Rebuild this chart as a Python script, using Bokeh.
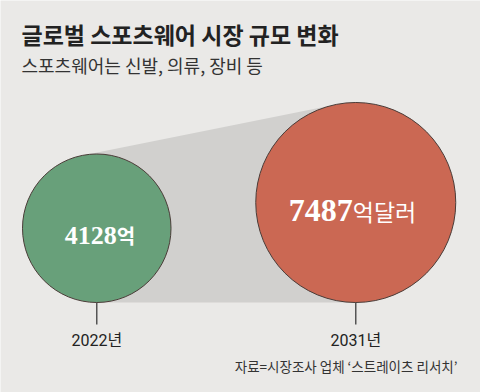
import numpy as np
from bokeh.plotting import figure
from bokeh.models import Range1d, ColumnDataSource
from bokeh.core.properties import value
from bokeh.embed import file_html
from bokeh.resources import INLINE

# ---- data ----
years = ["2022년", "2031년"]
market_values = [4128, 7487]          # 억 달러
value_labels = ["4128", "7487"]
unit_labels = ["억", "억달러"]
title_text = "글로벌 스포츠웨어 시장 규모 변화"
subtitle_text = "스포츠웨어는 신발, 의류, 장비 등"
source_text = "자료=시장조사 업체 \u2018스트레이츠 리서치\u2019"

# ---- styles / layout ----
W, H = 480, 392
BG = "#eae9e7"
SHADOW = "#d1d0ce"
CIRCLE_COLORS = ["#68a07a", "#cb6853"]
OUTLINE = "#4a3c38"
TEXT_DARK = "#222222"
BASE_Y = 302            # bottom line of bubbles (px)
FIRST_LEFT = 22         # left edge of first bubble
CENTER_GAP = 259        # distance between bubble centres
SCALE = 100 / np.sqrt(7487)   # px radius per sqrt(value)

p = figure(width=W, height=H, x_range=Range1d(0, W), y_range=Range1d(H, 0),
           output_backend="svg", toolbar_location=None, min_border=0,
           x_axis_location=None, y_axis_location=None)
p.grid.visible = False
p.outline_line_color = None
p.background_fill_color = BG
p.border_fill_color = BG

r = SCALE * np.sqrt(np.array(market_values, dtype=float))
cx = np.array([FIRST_LEFT + r[0], FIRST_LEFT + r[0] + CENTER_GAP])
cy = BASE_Y - r

# upper external tangent for the shadow
c1 = np.array([cx[0], cy[0]]); c2 = np.array([cx[1], cy[1]])
D = np.linalg.norm(c2 - c1)
u = (c2 - c1) / D
v = np.array([-u[1], u[0]])
if v[1] > 0:
    v = -v
a = (r[0] - r[1]) / D
n = a * u + np.sqrt(1 - a * a) * v
t1 = c1 + r[0] * n
t2 = c2 + r[1] * n
p.patch([t1[0], t2[0], cx[1], cx[0]], [t1[1], t2[1], BASE_Y, BASE_Y],
        fill_color=SHADOW, line_color=None)

# stems
p.segment(x0=cx, y0=[BASE_Y] * 2, x1=cx, y1=[BASE_Y + 22] * 2,
          line_color="#555555", line_width=1.5)

src = ColumnDataSource(dict(x=cx, y=cy, r=r, color=CIRCLE_COLORS))
p.circle(x="x", y="y", radius="r", fill_color="color", line_color=OUTLINE,
         line_width=1, source=src)

# value labels (digits serif bold + unit sans)
split = [cx[0] + 20, cx[1] - 3]
base = [cy[0] + 7, cy[1] + 8]
digit_sizes = ["26px", "32px"]
unit_sizes = ["20px", "23px"]
unit_styles = ["bold", "normal"]
for i in range(2):
    p.text(x=[split[i]], y=[base[i]], text=[value_labels[i]],
           text_font=value("Liberation Serif"), text_font_style="bold",
           text_font_size=digit_sizes[i], text_color="white",
           text_align="right", text_baseline="alphabetic")
    p.text(x=[split[i]], y=[base[i]], text=[unit_labels[i]],
           text_font=value("Noto Sans CJK KR"), text_font_style=unit_styles[i],
           text_font_size=unit_sizes[i], text_color="white",
           text_align="left", text_baseline="alphabetic")

# year labels
p.text(x=cx, y=[340, 340], text=years, text_font=value("Roboto, Noto Sans CJK KR"),
       text_font_size="16px", text_color=TEXT_DARK, text_align="center",
       text_baseline="middle")

# title, subtitle, source
p.text(x=[21], y=[33], text=[title_text], text_font=value("Noto Sans CJK KR"),
       text_font_style="bold", text_font_size="23px", text_color=TEXT_DARK,
       text_align="left", text_baseline="middle")
p.text(x=[21], y=[64], text=[subtitle_text], text_font=value("Noto Sans CJK KR"),
       text_font_size="18px", text_color="#333333",
       text_align="left", text_baseline="middle")
p.text(x=[457], y=[365], text=[source_text], text_font=value("Noto Sans CJK KR"),
       text_font_size="13.5px", text_color="#333333",
       text_align="right", text_baseline="middle")

open("out.html", "w").write(file_html(p, INLINE))
